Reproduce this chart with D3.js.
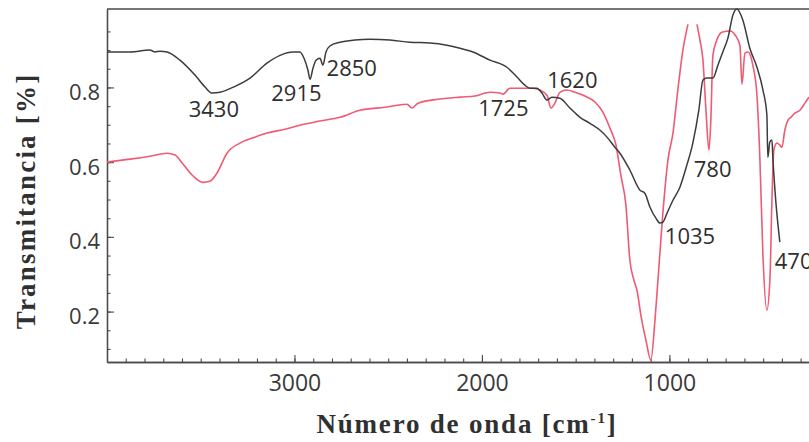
<!DOCTYPE html>
<html>
<head>
<meta charset="utf-8">
<script src="https://cdn.jsdelivr.net/npm/d3@7/dist/d3.min.js"></script>
<style>
  html, body { margin: 0; padding: 0; background: #fff; }
  svg { display: block; }
</style>
</head>
<body>
<svg id="chart" width="809" height="442"></svg>
<script>
// FTIR spectra: wavenumber (cm-1) and transmittance for two samples
const grayWavenumber = [4000, 3877, 3771, 3744, 3717, 3680, 3611, 3531, 3477, 3440, 3397, 3317, 3237, 3147, 3077, 3008,
  2971, 2949, 2928, 2917, 2901, 2885, 2864, 2848, 2832, 2811, 2757, 2677, 2597, 2491, 2384, 2277, 2187, 2117, 2048,
  1957, 1867, 1813, 1771, 1744, 1707, 1680, 1653, 1627, 1584, 1531, 1477, 1424, 1371, 1333, 1291, 1264, 1211, 1157,
  1131, 1104, 1072, 1051, 1035, 1013, 981, 944, 907, 875, 843, 821, 800, 768, 741, 715, 688, 661, 640, 608, 571, 533,
  501, 480, 475, 464, 453, 448, 437, 411];
const grayTransmittance = [0.895, 0.895, 0.900, 0.895, 0.897, 0.895, 0.873, 0.833, 0.801, 0.785, 0.787, 0.803, 0.825,
  0.865, 0.886, 0.895, 0.895, 0.878, 0.846, 0.822, 0.852, 0.873, 0.878, 0.860, 0.895, 0.911, 0.921, 0.927, 0.929,
  0.927, 0.921, 0.919, 0.913, 0.905, 0.895, 0.873, 0.854, 0.828, 0.806, 0.798, 0.798, 0.785, 0.766, 0.774, 0.771,
  0.745, 0.720, 0.704, 0.686, 0.667, 0.640, 0.624, 0.579, 0.525, 0.517, 0.480, 0.450, 0.437, 0.439, 0.463, 0.498,
  0.533, 0.592, 0.651, 0.739, 0.820, 0.825, 0.825, 0.860, 0.895, 0.932, 0.994, 1.010, 0.980, 0.905, 0.854, 0.793,
  0.726, 0.613, 0.654, 0.659, 0.611, 0.525, 0.386];

const pinkWavenumber = [4000, 3877, 3771, 3680, 3637, 3595, 3541, 3488, 3451, 3413, 3360, 3291, 3211, 3147, 3051, 2971,
  2864, 2757, 2651, 2517, 2400, 2373, 2341, 2224, 2117, 2037, 1957, 1904, 1888, 1851, 1728, 1691, 1653, 1632, 1611,
  1584, 1547, 1504, 1451, 1397, 1355, 1317, 1285, 1259, 1232, 1211, 1189, 1173, 1152, 1125, 1099, 1077, 1061, 1035,
  1008, 981, 955, 928, 901, 877, 853, 837, 821, 805, 789, 779, 768, 747, 720, 677, 645, 624, 613, 597, 581, 555, 533,
  517, 501, 480, 464, 453, 443, 427, 411, 400, 384, 368, 352, 331, 304, 277, 256];
const pinkTransmittance = [0.600, 0.608, 0.616, 0.624, 0.619, 0.595, 0.563, 0.546, 0.549, 0.571, 0.624, 0.651, 0.667,
  0.678, 0.688, 0.699, 0.710, 0.720, 0.739, 0.747, 0.755, 0.745, 0.758, 0.769, 0.774, 0.777, 0.787, 0.785, 0.782,
  0.798, 0.798, 0.793, 0.779, 0.745, 0.758, 0.787, 0.793, 0.787, 0.777, 0.761, 0.734, 0.691, 0.646, 0.565, 0.485,
  0.338, 0.284, 0.257, 0.190, 0.123, 0.070, 0.177, 0.284, 0.463, 0.605, 0.678, 0.793, 0.900, 0.969, null, 0.969,
  0.927, 0.873, 0.739, 0.632, 0.712, 0.886, 0.927, 0.948, 0.951, 0.937, 0.913, 0.809, 0.892, 0.895, 0.860, 0.779,
  0.605, 0.351, 0.204, 0.284, 0.498, 0.632, 0.651, 0.646, 0.640, 0.686, 0.712, 0.720, 0.731, 0.739, 0.758, 0.774];

const peakLabels = ["3430", "2915", "2850", "1725", "1620", "1035", "780", "470"];
const xTickLabels = [3000, 2000, 1000];
const yTickLabels = [0.2, 0.4, 0.6, 0.8];

const svg = d3.select("#chart");
const plotLeft = 107, plotRight = 810, plotTop = 9, plotBottom = 362;

const x = d3.scaleLinear().domain([4000, 250]).range([plotLeft, plotRight]);
const y = d3.scaleLinear().domain([0.065, 1.01]).range([plotBottom, plotTop]);

svg.append("defs").append("clipPath").attr("id", "plot-clip")
  .append("rect").attr("x", plotLeft).attr("y", plotTop - 1)
  .attr("width", plotRight - plotLeft).attr("height", plotBottom - plotTop + 2);

const axisColor = "#4a4a4a";
const tickFont = "'Open Sans', 'Noto Sans', sans-serif";

// minor ticks (every 100 cm-1 / every 0.05)
const xMinor = svg.append("g").attr("transform", `translate(0,${plotBottom})`)
  .call(d3.axisBottom(x).tickValues(d3.range(3900, 250, -100)).tickSizeInner(-3.5).tickSizeOuter(0).tickFormat(""));
const yMinor = svg.append("g").attr("transform", `translate(${plotLeft},0)`)
  .call(d3.axisLeft(y).tickValues(d3.range(0.1, 1.0, 0.05)).tickSizeInner(-3.5).tickSizeOuter(0).tickFormat(""));

// major ticks with labels
const xMajor = svg.append("g").attr("transform", `translate(0,${plotBottom})`)
  .call(d3.axisBottom(x).tickValues(xTickLabels).tickSizeInner(-7).tickSizeOuter(0).tickPadding(13).tickFormat(d3.format("d")));
const yMajor = svg.append("g").attr("transform", `translate(${plotLeft},0)`)
  .call(d3.axisLeft(y).tickValues(yTickLabels).tickSizeInner(-7).tickSizeOuter(0).tickPadding(7).tickFormat(d3.format(".1f")));

[xMinor, yMinor, xMajor, yMajor].forEach(g => {
  g.selectAll("path.domain").attr("stroke", axisColor).attr("stroke-width", 1.3);
  g.selectAll(".tick line").attr("stroke", axisColor).attr("stroke-width", 1.1);
  g.selectAll(".tick text").attr("fill", "#3a3a3a").attr("font-family", tickFont);
});
xMajor.selectAll(".tick text").attr("font-size", 23);
yMajor.selectAll(".tick text").attr("font-size", 22).attr("dy", "0.55em");

// top frame line
svg.append("line").attr("x1", plotLeft).attr("x2", plotRight).attr("y1", plotTop).attr("y2", plotTop)
  .attr("stroke", axisColor).attr("stroke-width", 1.6);

const line = d3.line()
  .defined(d => d[1] !== null)
  .x(d => x(d[0])).y(d => y(d[1]))
  .curve(d3.curveMonotoneX);

const plot = svg.append("g").attr("clip-path", "url(#plot-clip)");

plot.append("path")
  .datum(pinkWavenumber.map((w, i) => [w, pinkTransmittance[i]]))
  .attr("fill", "none").attr("stroke", "#f05a72").attr("stroke-width", 1.6)
  .attr("stroke-linejoin", "round").attr("d", line);

plot.append("path")
  .datum(grayWavenumber.map((w, i) => [w, grayTransmittance[i]]))
  .attr("fill", "none").attr("stroke", "#3c3c3c").attr("stroke-width", 1.5)
  .attr("stroke-linejoin", "round").attr("d", line);

// band annotations: anchor, horizontal offset from the band position, baseline
const labelPlacement = {
  "3430": { anchor: "middle", dx: 0, baseline: 117 },
  "2915": { anchor: "middle", dx: -14, baseline: 101 },
  "2850": { anchor: "start", dx: 4, baseline: 76 },
  "1725": { anchor: "end", dx: -5, baseline: 116 },
  "1620": { anchor: "start", dx: -6, baseline: 88 },
  "1035": { anchor: "start", dx: 2, baseline: 244 },
  "780":  { anchor: "middle", dx: 2, baseline: 177 },
  "470":  { anchor: "start", dx: 6, baseline: 269 }
};

svg.append("g").selectAll("text").data(peakLabels).join("text")
  .attr("x", d => x(+d) + labelPlacement[d].dx)
  .attr("y", d => labelPlacement[d].baseline)
  .attr("text-anchor", d => labelPlacement[d].anchor)
  .attr("font-family", tickFont).attr("font-size", 22).attr("fill", "#2e2e2e")
  .text(d => d);

// axis titles
const titleFont = "'Liberation Serif', 'DejaVu Serif', serif";
svg.append("text")
  .attr("transform", "translate(35,201) rotate(-90)")
  .attr("text-anchor", "middle")
  .attr("font-family", titleFont).attr("font-size", 27).attr("font-weight", "bold")
  .attr("letter-spacing", 2.2)
  .attr("fill", "#303030")
  .text("Transmitancia [%]");

const xt = svg.append("text")
  .attr("x", 467).attr("y", 433)
  .attr("text-anchor", "middle")
  .attr("font-family", titleFont).attr("font-size", 27).attr("font-weight", "bold")
  .attr("letter-spacing", 1.8)
  .attr("fill", "#303030");
xt.append("tspan").text("Número de onda [cm");
xt.append("tspan").attr("font-size", 15).attr("dy", -10).text("-1");
xt.append("tspan").attr("dy", 10).text("]");
</script>
</body>
</html>
